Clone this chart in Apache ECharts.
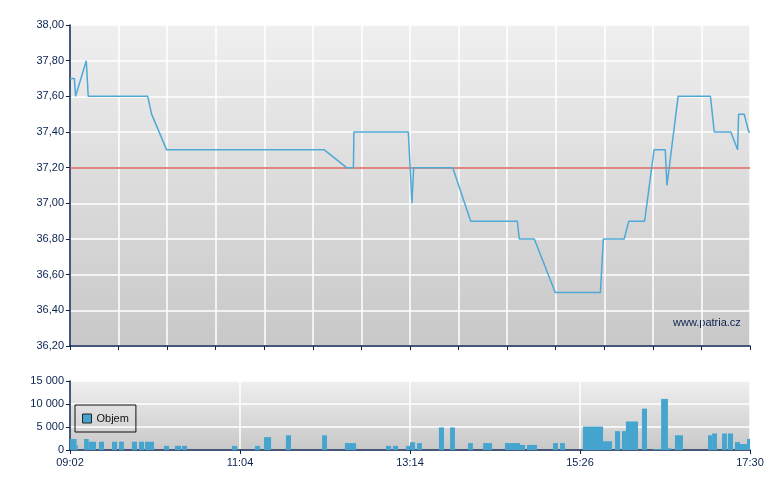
<!DOCTYPE html>
<html><head><meta charset="utf-8">
<script src="https://cdn.jsdelivr.net/npm/echarts@6/dist/echarts.min.js"></script>
<style>html,body{margin:0;padding:0;background:#fff}#c{width:780px;height:490px}</style>
</head><body><div id="c"></div>
<script>
// x positions are on a trading-session index scale 0..280
var timeLabels = ["09:02", "11:04", "13:14", "15:26", "17:30"];
var priceX = [0, 1.8, 2.3, 6.7, 7.5, 32.0, 33.6, 39.8, 104.7, 113.9, 116.7, 116.9, 139.3, 140.8, 141.5, 157.6, 165.0, 184.2, 185.0, 191.2, 199.8, 218.4, 219.6, 228.2, 230.1, 236.6, 240.5, 245.1, 245.8, 246.4, 250.4, 263.7, 265.3, 272.1, 274.9, 275.3, 277.6, 279.5, 280];
var priceY = [37.70, 37.70, 37.60, 37.80, 37.60, 37.60, 37.50, 37.30, 37.30, 37.20, 37.20, 37.40, 37.40, 37.00, 37.20, 37.20, 36.90, 36.90, 36.80, 36.80, 36.50, 36.50, 36.80, 36.80, 36.90, 36.90, 37.30, 37.30, 37.10, 37.10, 37.60, 37.60, 37.40, 37.40, 37.30, 37.50, 37.50, 37.40, 37.40];
var refPrice = 37.20;
var volStart = [0, 2.7, 5.8, 7.7, 11.9, 17.3, 20.2, 25.5, 28.4, 30.9, 38.7, 43.2, 46.1, 66.7, 76.2, 79.9, 88.9, 103.8, 113.2, 130.1, 133.0, 138.4, 140.0, 142.9, 151.9, 156.5, 163.9, 170.1, 179.1, 185.3, 188.2, 198.9, 201.8, 211.2, 219.5, 224.4, 227.3, 228.9, 235.5, 240.1, 242.1, 243.4, 246.2, 249.1, 262.7, 264.4, 268.5, 270.9, 273.8, 275.9, 278.8];
var volEnd = [2.7, 3.2, 7.7, 10.7, 14.0, 19.4, 22.2, 27.6, 30.5, 34.6, 40.8, 45.7, 48.2, 68.8, 78.2, 82.8, 91.0, 105.8, 117.8, 132.2, 135.1, 140.0, 142.1, 144.9, 154.0, 158.5, 165.9, 173.8, 185.3, 187.4, 192.3, 200.9, 203.8, 219.5, 223.2, 226.5, 228.9, 233.9, 237.6, 242.1, 243.4, 246.2, 247.5, 252.4, 264.4, 266.4, 270.5, 273.0, 275.9, 278.8, 280];
var volume = [2400, 1100, 2400, 1800, 1800, 1800, 1800, 1800, 1800, 1800, 900, 900, 900, 900, 900, 2800, 3200, 3200, 1500, 900, 900, 900, 1700, 1500, 4900, 4900, 1500, 1500, 1500, 1100, 1100, 1500, 1500, 5100, 1900, 4100, 4100, 6200, 9000, 200, 200, 11100, 400, 3200, 3200, 3600, 3600, 3600, 1700, 1300, 2400];

var priceData = priceX.map(function (x, i) { return [x, priceY[i]]; });
var volData = volStart.map(function (s, i) { return [s, volEnd[i], volume[i]]; });

var navy = '#0b2350';
var font = 'Liberation Sans, Arial, sans-serif';
function bg() {
  return new echarts.graphic.LinearGradient(0, 0, 0, 1, [
    { offset: 0, color: '#efefef' }, { offset: 1, color: '#c8c8c8' }]);
}
var chart = echarts.init(document.getElementById('c'), null, { renderer: 'canvas' });
chart.setOption({
  animation: false,
  backgroundColor: '#ffffff',
  textStyle: { fontFamily: font },
  grid: [
    { left: 70, right: 30, top: 25, height: 321, show: true, backgroundColor: bg(), borderWidth: 0 },
    { left: 70, right: 30, top: 381, height: 69, show: true, backgroundColor: bg(), borderWidth: 0 }
  ],
  xAxis: [
    { type: 'value', gridIndex: 0, min: 0, max: 280, interval: 20,
      axisLine: { show: true, onZero: false, lineStyle: { color: navy, width: 1.5 } },
      axisTick: { show: true, length: 4, lineStyle: { color: navy } },
      axisLabel: { show: false },
      splitLine: { show: true, lineStyle: { color: '#ffffff', width: 1.5 } } },
    { type: 'value', gridIndex: 1, min: 0, max: 280, interval: 70,
      axisLine: { show: true, onZero: false, lineStyle: { color: navy, width: 1.5 } },
      axisTick: { show: true, length: 4, lineStyle: { color: navy } },
      axisLabel: { show: true, color: navy, fontSize: 11, fontFamily: font, margin: 7,
        formatter: function (v) { return timeLabels[Math.round(v / 70)] || ''; } },
      splitLine: { show: true, lineStyle: { color: '#ffffff', width: 1.5 } } }
  ],
  yAxis: [
    { type: 'value', gridIndex: 0, min: 36.2, max: 38, interval: 0.2,
      axisLine: { show: true, lineStyle: { color: navy, width: 1.5 } },
      axisTick: { show: true, length: 4, lineStyle: { color: navy } },
      axisLabel: { color: navy, fontSize: 11, fontFamily: font, margin: 6,
        formatter: function (v) { return v.toFixed(2).replace('.', ','); } },
      splitLine: { show: true, lineStyle: { color: '#ffffff', width: 1.5 } } },
    { type: 'value', gridIndex: 1, min: 0, max: 15000, interval: 5000,
      axisLine: { show: true, lineStyle: { color: navy, width: 1.5 } },
      axisTick: { show: true, length: 4, lineStyle: { color: navy } },
      axisLabel: { color: navy, fontSize: 11, fontFamily: font, margin: 6,
        formatter: function (v) { return String(v).replace(/\B(?=(\d{3})+(?!\d))/g, ' '); } },
      splitLine: { show: true, lineStyle: { color: '#ffffff', width: 1.5 } } }
  ],
  legend: {
    show: true, left: 75, top: 405, orient: 'vertical',
    borderColor: '#111', borderWidth: 1, borderRadius: 0, backgroundColor: 'transparent',
    padding: [8, 7, 8, 7], itemWidth: 9, itemHeight: 9, itemGap: 4,
    textStyle: { color: '#111', fontSize: 11, fontFamily: font },
    data: [{ name: 'Objem', icon: 'rect', itemStyle: { color: '#45a5cf', borderColor: '#222', borderWidth: 1 } }]
  },
  graphic: [
    { type: 'text', left: 673, top: 317, style: { text: 'www.patria.cz', fill: navy, font: '11px ' + font } }
  ],
  series: [
    { type: 'line', name: 'Cena', xAxisIndex: 0, yAxisIndex: 0, data: priceData,
      symbol: 'none', lineStyle: { color: '#4ea9d6', width: 1.5 }, itemStyle: { color: '#4ea9d6' },
      z: 5,
      markLine: { silent: true, symbol: 'none', label: { show: false },
        lineStyle: { color: '#d9625e', width: 1.5, type: 'solid' },
        data: [{ yAxis: refPrice }] } },
    { type: 'custom', name: 'Objem', xAxisIndex: 1, yAxisIndex: 1, data: volData,
      encode: { x: [0, 1], y: 2 },
      itemStyle: { color: '#45a5cf' },
      renderItem: function (params, api) {
        var p0 = api.coord([api.value(0), api.value(2)]);
        var p1 = api.coord([api.value(1), 0]);
        return { type: 'rect',
          shape: { x: p0[0], y: p0[1], width: p1[0] - p0[0], height: p1[1] - p0[1] },
          style: { fill: '#45a5cf' } };
      } }
  ]
});
</script></body></html>
